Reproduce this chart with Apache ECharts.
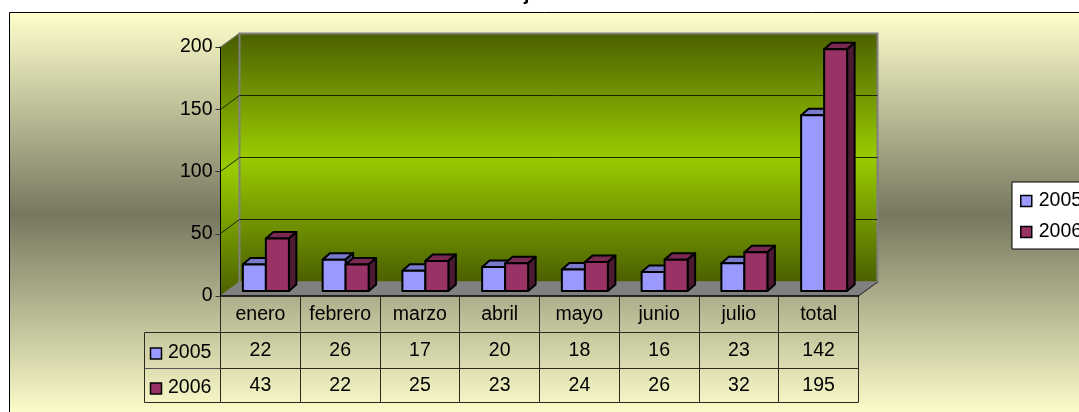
<!DOCTYPE html>
<html>
<head>
<meta charset="utf-8">
<title>2005 - 2006</title>
<style>
html, body { margin: 0; padding: 0; background: #fff; }
#chartmain { width: 1079px; height: 412px; }
</style>
<script src="https://cdn.jsdelivr.net/npm/echarts@6/dist/echarts.min.js"></script>
</head>
<body>
<div id="chartmain"></div>
<script>
var categorias = ['enero', 'febrero', 'marzo', 'abril', 'mayo', 'junio', 'julio', 'total'];
var valores2005 = [22, 26, 17, 20, 18, 16, 23, 142];
var valores2006 = [43, 22, 25, 23, 24, 26, 32, 195];
var marcasY = [0, 50, 100, 150, 200];

var fuente = '19.5px "Liberation Sans", Arial, sans-serif';

// filas de la tabla de datos (px)
var filaA = 332.5, filaB = 368.5, filaC = 402.5;

// profundidad del efecto 3D
var fondoX = 19, fondoY = -14;
var barraDesp = 5.5, barraBase = -5, barraAncho = 23, barraLadoX = 7.5, barraLadoY = -6.5;

function degradadoPared(y0, y1) {
    // absoluto, en px de la pagina
    return new echarts.graphic.LinearGradient(0, y0, 0, y1, [
        {offset: 0, color: '#4b6000'},
        {offset: 0.5, color: '#99cc00'},
        {offset: 1, color: '#4b6000'}
    ], true);
}

// paredes y suelo, a partir de las escalas
function dibujarParedes(params, api) {
    var p0 = api.coord([0, 0]);
    var pTop = api.coord([0, 200]);
    var ancho = api.size([1, 0])[0];
    var xa = p0[0] - ancho / 2, xb = xa + ancho * categorias.length;
    var y0 = p0[1], y1 = pTop[1];
    var piezas = [
        {type: 'polygon', shape: {points: [[xa, y0], [xa, y1], [xa + fondoX, y1 + fondoY], [xa + fondoX, y0 + fondoY]]},
            style: {fill: degradadoPared(y1 - 7, y0), stroke: '#808080', lineWidth: 1}},
        {type: 'rect', shape: {x: xa + fondoX, y: y1 + fondoY + 0.5, width: xb - xa, height: y0 - y1},
            style: {fill: degradadoPared(y1 + fondoY, y0 + fondoY), stroke: '#808080', lineWidth: 2}},
        {type: 'polygon', shape: {points: [[xa, y0], [xb, y0], [xb + fondoX, y0 + fondoY], [xa + fondoX, y0 + fondoY]]},
            style: {fill: '#808080', stroke: '#808080', lineWidth: 1}},
        {type: 'line', shape: {x1: xb, y1: y0, x2: xb + fondoX, y2: y0 + fondoY},
            style: {stroke: '#222', lineWidth: 1}}
    ];
    for (var i = 1; i < marcasY.length - 1; i++) {
        var y = Math.floor(api.coord([0, marcasY[i]])[1]) + 0.5;
        piezas.push({type: 'polyline', shape: {points: [[xa, y], [xa + fondoX, y + fondoY], [xb + fondoX, y + fondoY]]},
            style: {fill: 'none', stroke: '#1c2400', lineWidth: 1}});
    }
    return {type: 'group', children: piezas};
}

function barra3D(desp, colores) {
    return function (params, api) {
        var p = api.coord([api.value(0), api.value(1)]);
        var b = api.coord([api.value(0), 0]);
        var x0 = p[0] + desp, x1 = x0 + barraAncho;
        var yBase = b[1] + barraBase, yTop = p[1] + barraBase + 1;
        var borde = {stroke: '#000', lineWidth: 2, lineJoin: 'round'};
        return {type: 'group', children: [
            {type: 'polygon', shape: {points: [[x0, yTop], [x0 + barraLadoX, yTop + barraLadoY], [x1 + barraLadoX, yTop + barraLadoY], [x1, yTop]]},
                style: Object.assign({fill: colores[1]}, borde)},
            {type: 'polygon', shape: {points: [[x1, yTop], [x1 + barraLadoX, yTop + barraLadoY], [x1 + barraLadoX, yBase + barraLadoY], [x1, yBase]]},
                style: Object.assign({fill: colores[2]}, borde)},
            {type: 'rect', shape: {x: x0, y: yTop, width: barraAncho, height: yBase - yTop},
                style: Object.assign({fill: colores[0]}, borde)}
        ]};
    };
}

// celdas de la tabla bajo cada categoria
function dibujarTabla(params, api) {
    var p = api.coord([api.value(0), 0]);
    var ancho = api.size([1, 0])[0];
    var xd = p[0] + ancho / 2;
    var celda = function (txt, y) {
        return {type: 'text', style: {text: String(txt), x: p[0], y: y, align: 'center', verticalAlign: 'middle', font: fuente, fill: '#000'}};
    };
    var raya = function (x1, y1, x2, y2) {
        return {type: 'line', shape: {x1: x1, y1: y1, x2: x2, y2: y2}, style: {stroke: '#2a2a20', lineWidth: 1}};
    };
    var primera = api.value(0) === 0;
    var piezas = [
        celda(api.value(1), (filaA + filaB) / 2),
        celda(api.value(2), (filaB + filaC) / 2),
        raya(Math.floor(xd) + 0.5, p[1], Math.floor(xd) + 0.5, filaC),
        raya(p[0] - ancho / 2, filaA, xd, filaA),
        raya(p[0] - ancho / 2, filaB, xd, filaB),
        raya(p[0] - ancho / 2, filaC, xd, filaC)
    ];
    if (primera) {
        piezas.push(raya(Math.floor(p[0] - ancho / 2) + 0.5, p[1], Math.floor(p[0] - ancho / 2) + 0.5, filaC));
    }
    return {type: 'group', children: piezas};
}

var colores05 = ['#9999ff', '#7a7acc', '#4d4d80'];
var colores06 = ['#993366', '#7a2952', '#4d1a33'];

var filasTabla = categorias.map(function (c, i) { return [i, valores2005[i], valores2006[i]]; });

option = {
    animation: false,
    grid: {left: 220.5, right: 220.5, top: 47, bottom: 116},
    xAxis: {
        type: 'category',
        data: categorias,
        z: 3,
        axisLine: {lineStyle: {color: '#000', width: 1.5}},
        axisTick: {show: false},
        axisLabel: {interval: 0, color: '#000', fontSize: 19.5, fontFamily: '"Liberation Sans", Arial, sans-serif', margin: 9}
    },
    yAxis: {
        type: 'value',
        min: 0,
        max: 200,
        interval: 50,
        z: 3,
        axisLine: {show: true, lineStyle: {color: '#000', width: 1}},
        axisTick: {show: true, length: 5, lineStyle: {color: '#333'}},
        axisLabel: {color: '#000', fontSize: 19.5, fontFamily: '"Liberation Sans", Arial, sans-serif', margin: 8},
        splitLine: {show: false}
    },
    legend: {
        left: 1012,
        top: 182,
        orient: 'vertical',
        backgroundColor: '#fff',
        borderColor: '#000',
        borderWidth: 1,
        padding: [9, 8, 7, 8],
        itemWidth: 11,
        itemHeight: 11,
        itemGap: 11,
        textStyle: {color: '#000', fontSize: 19.5, fontFamily: '"Liberation Sans", Arial, sans-serif', padding: [0, 0, 0, 2]},
        itemStyle: {borderColor: '#000', borderWidth: 1.5},
        selectedMode: false,
        data: [
            {name: '2005', icon: 'rect'},
            {name: '2006', icon: 'rect'}
        ]
    },
    graphic: [
        {type: 'rect', z: -10, shape: {x: 9.5, y: 12.5, width: 1100, height: 440},
            style: {
                fill: new echarts.graphic.LinearGradient(0, 0, 0, 1, [
                    {offset: 0, color: '#ffffcc'},
                    {offset: 0.46, color: '#777760'},
                    {offset: 0.92, color: '#ffffcc'},
                    {offset: 1, color: '#ffffcc'}
                ]),
                stroke: '#000', lineWidth: 1
            }},
        {type: 'text', z: 5, style: {text: 'j', x: 524, y: -15, font: 'bold 19.5px "Liberation Sans", Arial, sans-serif', fill: '#000'}},
        {type: 'line', z: 5, shape: {x1: 144.5, y1: filaA, x2: 144.5, y2: filaC}, style: {stroke: '#2a2a20', lineWidth: 1}},
        {type: 'line', z: 5, shape: {x1: 144.5, y1: filaA, x2: 220.5, y2: filaA}, style: {stroke: '#2a2a20', lineWidth: 1}},
        {type: 'line', z: 5, shape: {x1: 144.5, y1: filaB, x2: 220.5, y2: filaB}, style: {stroke: '#555', lineWidth: 1}},
        {type: 'line', z: 5, shape: {x1: 144.5, y1: filaC, x2: 220.5, y2: filaC}, style: {stroke: '#2a2a20', lineWidth: 1}},
        {type: 'rect', z: 5, shape: {x: 150.5, y: 348, width: 11, height: 11}, style: {fill: colores05[0], stroke: '#000', lineWidth: 1.5}},
        {type: 'rect', z: 5, shape: {x: 150.5, y: 383, width: 11, height: 11}, style: {fill: colores06[0], stroke: '#000', lineWidth: 1.5}},
        {type: 'text', z: 5, style: {text: '2005', x: 168, y: (filaA + filaB) / 2 + 2, verticalAlign: 'middle', font: fuente, fill: '#000'}},
        {type: 'text', z: 5, style: {text: '2006', x: 168, y: (filaB + filaC) / 2 + 2, verticalAlign: 'middle', font: fuente, fill: '#000'}}
    ],
    series: [
        {
            type: 'custom', name: 'paredes', z: 1, silent: true, clip: false,
            coordinateSystem: 'cartesian2d',
            renderItem: dibujarParedes,
            encode: {x: 0, y: 1},
            data: [[0, 0]]
        },
        {
            type: 'custom', name: '2005', z: 4, clip: false,
            itemStyle: {color: colores05[0]},
            renderItem: barra3D(barraDesp - barraAncho, colores05),
            encode: {x: 0, y: 1},
            data: valores2005.map(function (v, i) { return [i, v]; })
        },
        {
            type: 'custom', name: '2006', z: 5, clip: false,
            itemStyle: {color: colores06[0]},
            renderItem: barra3D(barraDesp, colores06),
            encode: {x: 0, y: 1},
            data: valores2006.map(function (v, i) { return [i, v]; })
        },
        {
            type: 'custom', name: 'tabla', z: 2, silent: true, clip: false,
            renderItem: dibujarTabla,
            encode: {x: 0},
            data: filasTabla
        }
    ]
};

var myChart = echarts.init(document.getElementById('chartmain'));
myChart.setOption(option);
</script>
</body>
</html>
